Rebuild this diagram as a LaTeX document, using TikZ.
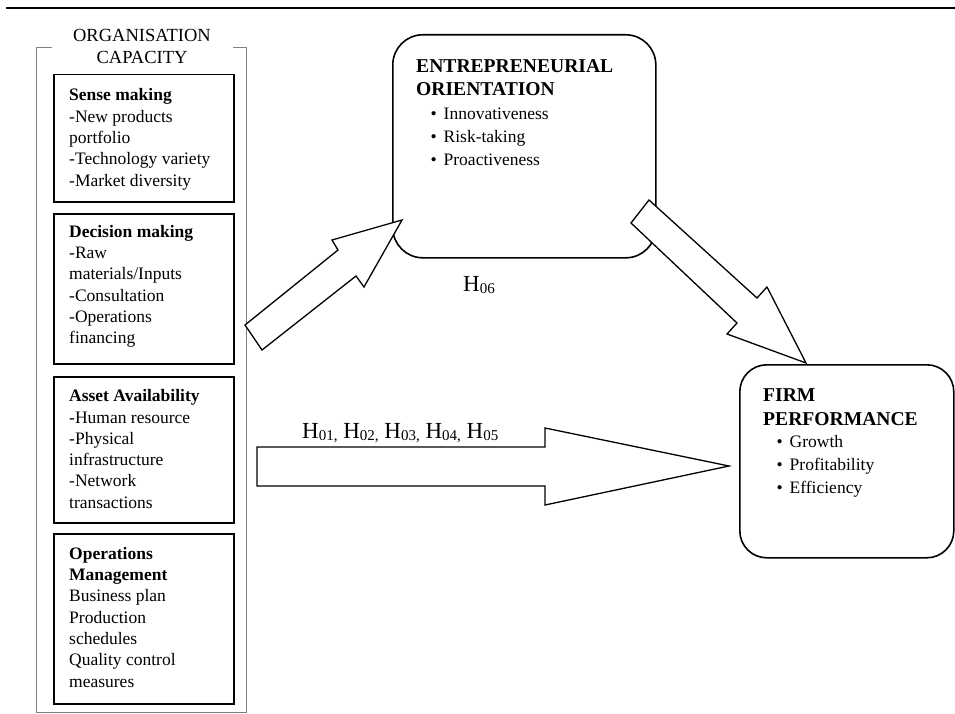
\documentclass[tikz,border=0pt]{standalone}
\usepackage{fontspec}
\setmainfont{Liberation Serif}
\newcommand\bul{\makebox[13pt][l]{\textbullet}}
\newcommand\hsub[1]{H\raisebox{-2pt}{\fontsize{15}{15}\selectfont #1}}
\tikzset{
  capbox/.style={draw=black, line width=1.5pt, inner sep=0pt, anchor=north west},
  roundbox/.style={draw=black, line width=1.6pt, inner sep=0pt, anchor=north west},
  txt/.style={anchor=base west, inner sep=0pt, font=\fontsize{17.5}{21.3}\selectfont},
  bold/.style={anchor=base west, inner sep=0pt, font=\fontsize{19.6}{23.5}\selectfont\bfseries},
  bullets/.style={anchor=base west, inner sep=0pt, font=\fontsize{17.5}{23}\selectfont},
  hlabel/.style={anchor=base west, inner sep=0pt, font=\fontsize{23}{23}\selectfont},
  blockarrow/.style={draw=black, fill=white, line width=1.3pt, line join=miter},
}
\begin{document}
\begin{tikzpicture}[x=1pt,y=-1pt]
\useasboundingbox (0,0) rectangle (955,714);
% top rule
\draw[line width=2.2pt] (6,8) -- (955,8);
% outer gray bracket box
\draw[gray, line width=1pt] (52,48) -- (36,48) -- (36,712) -- (246,712) -- (246,48) -- (233,48);
\node[anchor=base, inner sep=0pt, font=\fontsize{18.5}{21.3}\selectfont] (orgtitle) at (142,42)
  {\parbox[t]{200pt}{\centering ORGANISATION\\CAPACITY}};
% inner boxes
\node[capbox, minimum width=180pt, minimum height=127pt] (sense) at (53,74) {};
\node[capbox, minimum width=180pt, minimum height=150pt] (decision) at (53,213) {};
\node[capbox, minimum width=180pt, minimum height=146pt] (asset) at (53,376) {};
\node[capbox, minimum width=180pt, minimum height=170pt] (ops) at (53,533) {};
\node[txt] (sensetxt) at (69,101) {\parbox[t]{170pt}{\textbf{Sense making}\\-New products\\portfolio\\-Technology variety\\-Market diversity}};
\node[txt] (decisiontxt) at (69,237.3) {\parbox[t]{170pt}{\textbf{Decision making}\\-Raw\\materials/Inputs\\-Consultation\\-Operations\\financing}};
\node[txt] (assettxt) at (69,401.7) {\parbox[t]{170pt}{\textbf{Asset Availability}\\-Human resource\\-Physical\\infrastructure\\-Network\\transactions}};
\node[txt] (opstxt) at (69,559.3) {\parbox[t]{170pt}{\textbf{Operations}\\\textbf{Management}\\Business plan\\Production\\schedules\\Quality control\\measures}};
% rounded boxes
\node[roundbox, rounded corners=30pt, minimum width=263pt, minimum height=223pt] (eo) at (392,34) {};
\node[roundbox, rounded corners=27pt, minimum width=214pt, minimum height=193pt] (fp) at (739,364) {};
\node[bold] (eotitle) at (416,72.3) {\parbox[t]{240pt}{ENTREPRENEURIAL\\ORIENTATION}};
\node[bullets] (eolist) at (430.5,119.3) {\parbox[t]{200pt}{\bul Innovativeness\\\bul Risk-taking\\\bul Proactiveness}};
\node[bold] (fptitle) at (763,401.7) {\parbox[t]{190pt}{FIRM\\PERFORMANCE}};
\node[bullets] (fplist) at (776.5,447.7) {\parbox[t]{170pt}{\bul Growth\\\bul Profitability\\\bul Efficiency}};
% block arrows
\draw[blockarrow] (245,325) -- (338,250) -- (332,240) -- (402,220) -- (364,287) -- (356,276) -- (262,350) -- cycle;
\draw[blockarrow] (649,200) -- (757,298) -- (767,287) -- (806,363) -- (727,334) -- (737,323) -- (631,223) -- cycle;
\draw[blockarrow] (257,447) -- (545,447) -- (545,428) -- (729,466) -- (545,505) -- (545,486) -- (257,486) -- cycle;
% labels
\node[hlabel] (h06) at (463,291.7) {\hsub{06}};
\node[hlabel] (h0105) at (302,438.3) {\hsub{01,} \hsub{02,} \hsub{03,} \hsub{04,} \hsub{05}};
\end{tikzpicture}
\end{document}
